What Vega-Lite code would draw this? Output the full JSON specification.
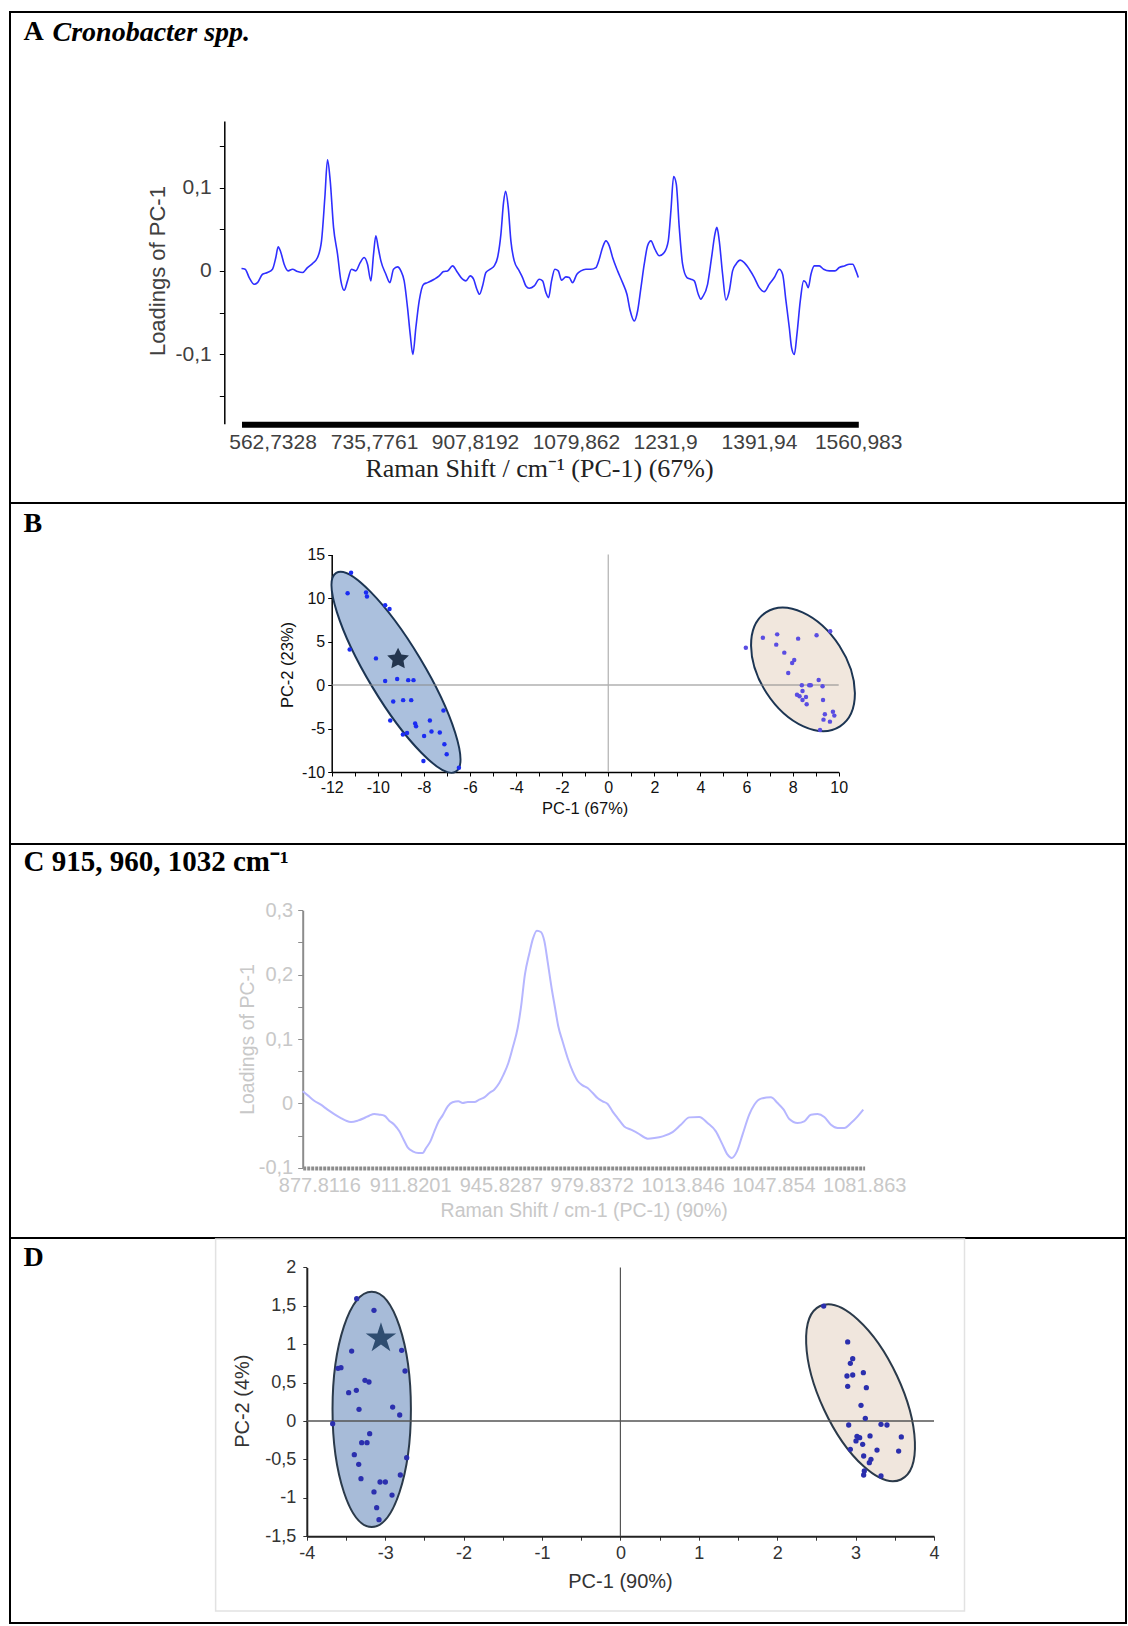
{
"padding": {"left": 9, "top": 11, "right": 1, "bottom": 1},
"spacing": 0,
"bounds": "flush",
"config": {
  "view": {"stroke": "#000000", "strokeWidth": 2},
  "font": "Liberation Sans",
  "axis": {"grid": false, "labelFlush": false, "labelOverlap": false, "titleFontWeight": "normal", "labelFont": "Liberation Sans", "titleFont": "Liberation Sans", "titleAlign": "center", "titleBaseline": "alphabetic"}
},
"datasets": {
  "specA": [
{"shift":509.8,"loading":0.0028},{"shift":516.0,"loading":0.0020},{"shift":522.9,"loading":-0.0080},{"shift":531.4,"loading":-0.0161},{"shift":537.1,"loading":-0.0141},{"shift":545.6,"loading":-0.0040},{"shift":554.1,"loading":-0.0020},{"shift":562.6,"loading":0.0020},{"shift":568.3,"loading":0.0161},{"shift":572.3,"loading":0.0289},{"shift":576.9,"loading":0.0221},{"shift":582.5,"loading":0.0080},{"shift":589.4,"loading":0.0},{"shift":596.7,"loading":0.0020},{"shift":605.3,"loading":-0.0008},{"shift":613.8,"loading":-0.0020},{"shift":622.3,"loading":0.0040},{"shift":630.8,"loading":0.0088},{"shift":639.4,"loading":0.0161},{"shift":646.2,"loading":0.0361},{"shift":651.9,"loading":0.0884},{"shift":656.4,"loading":0.1333},{"shift":661.0,"loading":0.1084},{"shift":666.7,"loading":0.0522},{"shift":673.5,"loading":0.0201},{"shift":679.2,"loading":-0.0120},{"shift":684.8,"loading":-0.0233},{"shift":690.5,"loading":-0.0120},{"shift":697.3,"loading":0.0020},{"shift":704.7,"loading":0.0},{"shift":712.1,"loading":0.0100},{"shift":718.9,"loading":0.0161},{"shift":724.6,"loading":0.0080},{"shift":730.3,"loading":-0.0120},{"shift":734.9,"loading":0.0201},{"shift":738.8,"loading":0.0422},{"shift":742.8,"loading":0.0281},{"shift":747.4,"loading":0.0120},{"shift":755.9,"loading":-0.0040},{"shift":762.7,"loading":-0.0141},{"shift":768.9,"loading":0.0020},{"shift":775.8,"loading":0.0048},{"shift":781.5,"loading":0.0},{"shift":787.1,"loading":-0.0120},{"shift":792.8,"loading":-0.0442},{"shift":797.4,"loading":-0.0763},{"shift":801.9,"loading":-0.1004},{"shift":807.0,"loading":-0.0683},{"shift":812.7,"loading":-0.0361},{"shift":820.1,"loading":-0.0161},{"shift":826.9,"loading":-0.0141},{"shift":838.3,"loading":-0.0100},{"shift":846.8,"loading":-0.0060},{"shift":854.2,"loading":-0.0008},{"shift":861.0,"loading":0.0},{"shift":869.6,"loading":0.0060},{"shift":878.1,"loading":-0.0020},{"shift":886.6,"loading":-0.0100},{"shift":892.3,"loading":-0.0120},{"shift":899.7,"loading":-0.0060},{"shift":905.4,"loading":-0.0100},{"shift":911.0,"loading":-0.0221},{"shift":915.6,"loading":-0.0281},{"shift":920.7,"loading":-0.0181},{"shift":926.4,"loading":-0.0020},{"shift":933.8,"loading":0.0020},{"shift":940.6,"loading":0.0060},{"shift":946.3,"loading":0.0161},{"shift":952.0,"loading":0.0442},{"shift":956.5,"loading":0.0823},{"shift":959.9,"loading":0.0956},{"shift":964.5,"loading":0.0763},{"shift":969.0,"loading":0.0361},{"shift":974.7,"loading":0.0120},{"shift":983.2,"loading":0.0},{"shift":988.9,"loading":-0.0080},{"shift":994.6,"loading":-0.0181},{"shift":1000.3,"loading":-0.0209},{"shift":1008.8,"loading":-0.0181},{"shift":1017.3,"loading":-0.0100},{"shift":1023.0,"loading":-0.0120},{"shift":1028.7,"loading":-0.0261},{"shift":1033.2,"loading":-0.0321},{"shift":1038.3,"loading":-0.0120},{"shift":1044.0,"loading":0.0020},{"shift":1049.7,"loading":0.0},{"shift":1055.4,"loading":-0.0112},{"shift":1062.8,"loading":-0.0072},{"shift":1068.5,"loading":-0.0080},{"shift":1074.1,"loading":-0.0141},{"shift":1081.5,"loading":-0.0040},{"shift":1088.4,"loading":0.0},{"shift":1096.9,"loading":0.0020},{"shift":1105.4,"loading":0.0020},{"shift":1113.9,"loading":0.0040},{"shift":1119.6,"loading":0.0141},{"shift":1125.3,"loading":0.0281},{"shift":1131.0,"loading":0.0361},{"shift":1136.7,"loading":0.0301},{"shift":1142.4,"loading":0.0161},{"shift":1150.9,"loading":0.0},{"shift":1159.4,"loading":-0.0141},{"shift":1166.8,"loading":-0.0281},{"shift":1172.5,"loading":-0.0482},{"shift":1179.3,"loading":-0.0602},{"shift":1185.0,"loading":-0.0482},{"shift":1190.7,"loading":-0.0201},{"shift":1196.3,"loading":0.0080},{"shift":1202.0,"loading":0.0301},{"shift":1207.7,"loading":0.0361},{"shift":1214.5,"loading":0.0261},{"shift":1221.9,"loading":0.0181},{"shift":1230.4,"loading":0.0221},{"shift":1237.3,"loading":0.0361},{"shift":1241.8,"loading":0.0723},{"shift":1246.4,"loading":0.1133},{"shift":1250.9,"loading":0.1044},{"shift":1256.0,"loading":0.0522},{"shift":1261.7,"loading":0.0080},{"shift":1269.1,"loading":-0.0080},{"shift":1275.9,"loading":-0.0100},{"shift":1281.6,"loading":-0.0120},{"shift":1288.4,"loading":-0.0281},{"shift":1292.9,"loading":-0.0341},{"shift":1295.8,"loading":-0.0313},{"shift":1304.3,"loading":-0.0161},{"shift":1311.1,"loading":0.0161},{"shift":1316.8,"loading":0.0442},{"shift":1320.2,"loading":0.0522},{"shift":1324.2,"loading":0.0361},{"shift":1329.9,"loading":-0.0040},{"shift":1335.6,"loading":-0.0349},{"shift":1341.3,"loading":-0.0241},{"shift":1346.9,"loading":0.0},{"shift":1352.6,"loading":0.0080},{"shift":1360.0,"loading":0.0129},{"shift":1366.8,"loading":0.0100},{"shift":1375.4,"loading":0.0020},{"shift":1383.9,"loading":-0.0080},{"shift":1392.4,"loading":-0.0201},{"shift":1400.9,"loading":-0.0249},{"shift":1409.5,"loading":-0.0161},{"shift":1418.0,"loading":-0.0080},{"shift":1426.5,"loading":0.0020},{"shift":1432.2,"loading":-0.0040},{"shift":1437.9,"loading":-0.0361},{"shift":1443.6,"loading":-0.0683},{"shift":1447.5,"loading":-0.0924},{"shift":1452.1,"loading":-0.1004},{"shift":1456.6,"loading":-0.0763},{"shift":1462.3,"loading":-0.0361},{"shift":1468.0,"loading":-0.0120},{"shift":1472.0,"loading":-0.0141},{"shift":1475.9,"loading":-0.0201},{"shift":1480.5,"loading":-0.0040},{"shift":1486.2,"loading":0.0060},{"shift":1494.7,"loading":0.0060},{"shift":1502.1,"loading":0.0020},{"shift":1511.8,"loading":0.0},{"shift":1521.4,"loading":0.0},{"shift":1528.8,"loading":0.0040},{"shift":1537.3,"loading":0.0060},{"shift":1545.9,"loading":0.0080},{"shift":1551.6,"loading":0.0080},{"shift":1557.2,"loading":0.0},{"shift":1561.2,"loading":-0.0080}
  ],
  "specC": [
{"shift":871.6,"loading":0.0187},{"shift":873.5,"loading":0.0124},{"shift":875.9,"loading":0.0041},{"shift":878.4,"loading":-0.0021},{"shift":880.9,"loading":-0.0098},{"shift":883.4,"loading":-0.0166},{"shift":885.9,"loading":-0.0228},{"shift":887.8,"loading":-0.0269},{"shift":889.7,"loading":-0.0290},{"shift":892.2,"loading":-0.0269},{"shift":894.7,"loading":-0.0228},{"shift":896.5,"loading":-0.0192},{"shift":898.4,"loading":-0.0166},{"shift":900.3,"loading":-0.0176},{"shift":902.2,"loading":-0.0192},{"shift":904.0,"loading":-0.0269},{"shift":905.9,"loading":-0.0332},{"shift":907.8,"loading":-0.0435},{"shift":909.4,"loading":-0.0565},{"shift":910.9,"loading":-0.0684},{"shift":912.8,"loading":-0.0746},{"shift":914.9,"loading":-0.0772},{"shift":916.5,"loading":-0.0772},{"shift":917.8,"loading":-0.0694},{"shift":919.4,"loading":-0.0591},{"shift":920.9,"loading":-0.0435},{"shift":922.4,"loading":-0.0290},{"shift":924.0,"loading":-0.0187},{"shift":925.9,"loading":-0.0047},{"shift":927.7,"loading":0.0016},{"shift":929.9,"loading":0.0031},{"shift":931.5,"loading":0.0005},{"shift":933.4,"loading":0.0021},{"shift":935.9,"loading":0.0021},{"shift":937.7,"loading":0.0057},{"shift":939.6,"loading":0.0093},{"shift":941.5,"loading":0.0161},{"shift":943.3,"loading":0.0212},{"shift":945.2,"loading":0.0316},{"shift":946.8,"loading":0.0446},{"shift":948.6,"loading":0.0627},{"shift":950.2,"loading":0.0860},{"shift":952.1,"loading":0.1171},{"shift":953.3,"loading":0.1482},{"shift":954.8,"loading":0.2000},{"shift":956.5,"loading":0.2337},{"shift":957.7,"loading":0.2544},{"shift":959.3,"loading":0.2684},{"shift":960.8,"loading":0.2663},{"shift":962.1,"loading":0.2518},{"shift":963.3,"loading":0.2207},{"shift":964.8,"loading":0.1793},{"shift":966.1,"loading":0.1482},{"shift":967.3,"loading":0.1197},{"shift":968.9,"loading":0.0964},{"shift":970.8,"loading":0.0705},{"shift":972.7,"loading":0.0497},{"shift":974.5,"loading":0.0352},{"shift":976.4,"loading":0.0280},{"shift":978.3,"loading":0.0238},{"shift":980.2,"loading":0.0161},{"shift":982.0,"loading":0.0083},{"shift":983.9,"loading":0.0031},{"shift":985.8,"loading":-0.0010},{"shift":987.6,"loading":-0.0124},{"shift":989.5,"loading":-0.0228},{"shift":992.0,"loading":-0.0358},{"shift":994.5,"loading":-0.0409},{"shift":997.0,"loading":-0.0461},{"shift":1000.8,"loading":-0.0549},{"shift":1003.3,"loading":-0.0539},{"shift":1006.4,"loading":-0.0513},{"shift":1010.1,"loading":-0.0446},{"shift":1013.2,"loading":-0.0332},{"shift":1016.4,"loading":-0.0218},{"shift":1020.1,"loading":-0.0212},{"shift":1023.2,"loading":-0.0306},{"shift":1026.3,"loading":-0.0435},{"shift":1028.8,"loading":-0.0642},{"shift":1030.7,"loading":-0.0798},{"shift":1032.2,"loading":-0.0850},{"shift":1034.2,"loading":-0.0746},{"shift":1036.3,"loading":-0.0487},{"shift":1038.8,"loading":-0.0176},{"shift":1040.7,"loading":-0.0021},{"shift":1043.2,"loading":0.0073},{"shift":1046.9,"loading":0.0093},{"shift":1049.4,"loading":0.0005},{"shift":1051.7,"loading":-0.0098},{"shift":1053.8,"loading":-0.0244},{"shift":1056.9,"loading":-0.0306},{"shift":1059.4,"loading":-0.0280},{"shift":1061.9,"loading":-0.0176},{"shift":1064.4,"loading":-0.0166},{"shift":1066.9,"loading":-0.0212},{"shift":1069.4,"loading":-0.0332},{"shift":1071.9,"loading":-0.0383},{"shift":1074.4,"loading":-0.0383},{"shift":1076.9,"loading":-0.0306},{"shift":1079.4,"loading":-0.0202},{"shift":1081.5,"loading":-0.0098}
  ],
  "pcaB": [
{"pc1":-11.16,"pc2":12.89,"cluster":"left"},{"pc1":-11.31,"pc2":10.55,"cluster":"left"},{"pc1":-10.51,"pc2":10.62,"cluster":"left"},{"pc1":-10.47,"pc2":10.16,"cluster":"left"},{"pc1":-9.68,"pc2":9.16,"cluster":"left"},{"pc1":-9.49,"pc2":8.74,"cluster":"left"},{"pc1":-11.22,"pc2":4.09,"cluster":"left"},{"pc1":-10.08,"pc2":3.06,"cluster":"left"},{"pc1":-9.68,"pc2":0.45,"cluster":"left"},{"pc1":-9.16,"pc2":0.68,"cluster":"left"},{"pc1":-8.68,"pc2":0.56,"cluster":"left"},{"pc1":-8.45,"pc2":0.56,"cluster":"left"},{"pc1":-9.33,"pc2":-1.90,"cluster":"left"},{"pc1":-8.90,"pc2":-1.74,"cluster":"left"},{"pc1":-8.55,"pc2":-1.74,"cluster":"left"},{"pc1":-9.46,"pc2":-4.09,"cluster":"left"},{"pc1":-8.38,"pc2":-4.43,"cluster":"left"},{"pc1":-8.34,"pc2":-4.74,"cluster":"left"},{"pc1":-7.74,"pc2":-4.09,"cluster":"left"},{"pc1":-7.15,"pc2":-2.93,"cluster":"left"},{"pc1":-8.91,"pc2":-5.70,"cluster":"left"},{"pc1":-8.73,"pc2":-5.51,"cluster":"left"},{"pc1":-7.99,"pc2":-5.85,"cluster":"left"},{"pc1":-7.67,"pc2":-5.35,"cluster":"left"},{"pc1":-7.31,"pc2":-5.47,"cluster":"left"},{"pc1":-7.11,"pc2":-6.81,"cluster":"left"},{"pc1":-7.01,"pc2":-7.96,"cluster":"left"},{"pc1":-8.02,"pc2":-8.73,"cluster":"left"},{"pc1":-6.48,"pc2":-9.50,"cluster":"left"},
{"pc1":5.97,"pc2":4.29,"cluster":"right"},{"pc1":6.71,"pc2":5.44,"cluster":"right"},{"pc1":7.33,"pc2":5.82,"cluster":"right"},{"pc1":7.29,"pc2":4.64,"cluster":"right"},{"pc1":8.24,"pc2":5.33,"cluster":"right"},{"pc1":9.04,"pc2":5.71,"cluster":"right"},{"pc1":9.63,"pc2":6.17,"cluster":"right"},{"pc1":7.64,"pc2":3.72,"cluster":"right"},{"pc1":8.07,"pc2":2.87,"cluster":"right"},{"pc1":7.98,"pc2":2.53,"cluster":"right"},{"pc1":7.81,"pc2":1.38,"cluster":"right"},{"pc1":9.13,"pc2":0.58,"cluster":"right"},{"pc1":8.40,"pc2":-0.04,"cluster":"right"},{"pc1":8.72,"pc2":-0.04,"cluster":"right"},{"pc1":8.79,"pc2":-0.04,"cluster":"right"},{"pc1":9.30,"pc2":-0.15,"cluster":"right"},{"pc1":8.43,"pc2":-0.69,"cluster":"right"},{"pc1":8.19,"pc2":-1.11,"cluster":"right"},{"pc1":8.30,"pc2":-1.30,"cluster":"right"},{"pc1":8.58,"pc2":-1.38,"cluster":"right"},{"pc1":8.43,"pc2":-1.72,"cluster":"right"},{"pc1":8.61,"pc2":-2.22,"cluster":"right"},{"pc1":9.32,"pc2":-1.72,"cluster":"right"},{"pc1":9.40,"pc2":-3.37,"cluster":"right"},{"pc1":9.75,"pc2":-3.07,"cluster":"right"},{"pc1":9.81,"pc2":-3.52,"cluster":"right"},{"pc1":9.34,"pc2":-3.98,"cluster":"right"},{"pc1":9.62,"pc2":-4.21,"cluster":"right"},{"pc1":9.19,"pc2":-5.17,"cluster":"right"}
  ],
  "ellB": [{"cluster":"left","pc1":-9.21,"pc2":1.46},{"cluster":"right","pc1":8.45,"pc2":1.8}],
  "starB": [{"pc1":-9.12,"pc2":2.98}],
  "pcaD": [
{"pc1":-3.364,"pc2":1.593,"cluster":"left"},{"pc1":-3.143,"pc2":1.441,"cluster":"left"},{"pc1":-3.428,"pc2":0.911,"cluster":"left"},{"pc1":-2.790,"pc2":0.920,"cluster":"left"},{"pc1":-3.602,"pc2":0.686,"cluster":"left"},{"pc1":-3.564,"pc2":0.694,"cluster":"left"},{"pc1":-2.747,"pc2":0.651,"cluster":"left"},{"pc1":-3.258,"pc2":0.530,"cluster":"left"},{"pc1":-3.207,"pc2":0.508,"cluster":"left"},{"pc1":-3.466,"pc2":0.369,"cluster":"left"},{"pc1":-3.368,"pc2":0.399,"cluster":"left"},{"pc1":-3.334,"pc2":0.152,"cluster":"left"},{"pc1":-2.905,"pc2":0.182,"cluster":"left"},{"pc1":-2.815,"pc2":0.078,"cluster":"left"},{"pc1":-3.670,"pc2":-0.035,"cluster":"left"},{"pc1":-3.198,"pc2":-0.165,"cluster":"left"},{"pc1":-3.300,"pc2":-0.282,"cluster":"left"},{"pc1":-3.232,"pc2":-0.282,"cluster":"left"},{"pc1":-3.394,"pc2":-0.438,"cluster":"left"},{"pc1":-3.338,"pc2":-0.564,"cluster":"left"},{"pc1":-2.726,"pc2":-0.477,"cluster":"left"},{"pc1":-3.309,"pc2":-0.751,"cluster":"left"},{"pc1":-2.807,"pc2":-0.703,"cluster":"left"},{"pc1":-3.066,"pc2":-0.794,"cluster":"left"},{"pc1":-2.998,"pc2":-0.794,"cluster":"left"},{"pc1":-3.143,"pc2":-0.924,"cluster":"left"},{"pc1":-2.913,"pc2":-0.964,"cluster":"left"},{"pc1":-3.109,"pc2":-1.128,"cluster":"left"},{"pc1":-3.079,"pc2":-1.285,"cluster":"left"},
{"pc1":2.593,"pc2":1.497,"cluster":"right"},{"pc1":2.899,"pc2":1.029,"cluster":"right"},{"pc1":2.963,"pc2":0.812,"cluster":"right"},{"pc1":2.933,"pc2":0.751,"cluster":"right"},{"pc1":2.890,"pc2":0.586,"cluster":"right"},{"pc1":2.963,"pc2":0.599,"cluster":"right"},{"pc1":3.099,"pc2":0.629,"cluster":"right"},{"pc1":2.899,"pc2":0.451,"cluster":"right"},{"pc1":3.137,"pc2":0.434,"cluster":"right"},{"pc1":3.069,"pc2":0.204,"cluster":"right"},{"pc1":3.124,"pc2":0.035,"cluster":"right"},{"pc1":2.912,"pc2":-0.052,"cluster":"right"},{"pc1":3.324,"pc2":-0.043,"cluster":"right"},{"pc1":3.400,"pc2":-0.052,"cluster":"right"},{"pc1":3.018,"pc2":-0.199,"cluster":"right"},{"pc1":3.052,"pc2":-0.217,"cluster":"right"},{"pc1":3.184,"pc2":-0.195,"cluster":"right"},{"pc1":3.583,"pc2":-0.208,"cluster":"right"},{"pc1":3.005,"pc2":-0.260,"cluster":"right"},{"pc1":3.090,"pc2":-0.304,"cluster":"right"},{"pc1":2.933,"pc2":-0.369,"cluster":"right"},{"pc1":3.273,"pc2":-0.378,"cluster":"right"},{"pc1":3.549,"pc2":-0.391,"cluster":"right"},{"pc1":3.103,"pc2":-0.456,"cluster":"right"},{"pc1":3.196,"pc2":-0.499,"cluster":"right"},{"pc1":3.175,"pc2":-0.543,"cluster":"right"},{"pc1":3.111,"pc2":-0.651,"cluster":"right"},{"pc1":3.103,"pc2":-0.703,"cluster":"right"},{"pc1":3.324,"pc2":-0.716,"cluster":"right"}
  ],
  "ellD": [{"cluster":"left","pc1":-3.172,"pc2":0.152},{"cluster":"right","pc1":3.063,"pc2":0.368}],
  "starD": [{"pc1":-3.054,"pc2":1.076}]
},
"vconcat": [
  {
    "width": 1116, "height": 491,
    "title": {"text": "A", "anchor": "start", "frame": "group", "orient": "top", "offset": -56, "dx": 13.5, "baseline": "alphabetic", "font": "Liberation Serif", "fontSize": 28, "fontWeight": "bold", "color": "#000000"},
    "data": {"name": "specA"},
    "resolve": {"axis": {"x": "independent"}},
    "layer": [
      {"mark": {"type": "line", "color": "#2f2fff", "strokeWidth": 1.6, "interpolate": "monotone"},
       "encoding": {
        "x": {"field": "shift", "type": "quantitative",
          "scale": {"domain": [509.8, 1561.2], "range": [231.5, 848.3], "nice": false, "zero": false},
          "axis": {"orient": "bottom", "offset": -78.7, "values": [562.7328, 735.7761, 907.8192, 1079.862, 1231.9, 1391.94, 1560.983],
            "labelExpr": "replace(toString(datum.value), '.', ',')", "ticks": false, "tickSize": 0, "domainColor": "#000000", "domainWidth": 6,
            "labelFontSize": 21, "labelColor": "#404040", "labelPadding": 7,
            "title": "Raman Shift / cm⁻¹ (PC-1) (67%)", "titleFont": "Liberation Serif", "titleFontSize": 26, "titleColor": "#222222", "titleX": 529, "titleY": 51.7}},
        "y": {"field": "loading", "type": "quantitative",
          "scale": {"domain": [-0.1835, 0.18], "range": [411.7, 109], "nice": false, "zero": false},
          "axis": {"orient": "left", "offset": -214.3, "values": [-0.15, -0.1, -0.05, 0, 0.05, 0.1, 0.15],
            "labelExpr": "datum.value == 0.1 ? '0,1' : datum.value == -0.1 ? '-0,1' : datum.value == 0 ? '0' : ''",
            "tickSize": 5, "tickColor": "#000000", "domainColor": "#000000", "domainWidth": 1.5,
            "labelFontSize": 21, "labelColor": "#404040", "labelPadding": 8,
            "title": "Loadings of PC-1", "titleFontSize": 22, "titleColor": "#404040", "titleAngle": -90, "titleX": -59.8, "titleY": 258.6}}
       }},
      {"mark": {"type": "line", "opacity": 0},
       "encoding": {
        "x": {"field": "shift", "type": "quantitative",
          "axis": {"orient": "top", "offset": 0, "domain": false, "ticks": false, "labels": false, "grid": false,
            "title": "Cronobacter spp.", "titleFont": "Liberation Serif", "titleFontSize": 28, "titleFontWeight": "bold", "titleFontStyle": "italic", "titleColor": "#000000",
            "titleAlign": "left", "titleBaseline": "alphabetic", "titleAngle": 0, "titleX": 42, "titleY": 28}},
        "y": {"field": "loading", "type": "quantitative"}
       }}
    ]
  },
  {
    "width": 1116, "height": 341,
    "title": {"text": "B", "anchor": "start", "frame": "group", "orient": "top", "offset": -57, "dx": 13.5, "baseline": "alphabetic", "font": "Liberation Serif", "fontSize": 28, "fontWeight": "bold", "color": "#000000"},
    "layer": [
      {"data": {"name": "ellB"}, "transform": [{"filter": "datum.cluster == 'left'"}],
       "mark": {"type": "point", "shape": "M-1,0 C-1,-0.1325 -0.5523,-0.24 0,-0.24 C0.5523,-0.24 1,-0.1325 1,0 C1,0.1325 0.5523,0.24 0,0.24 C-0.5523,0.24 -1,0.1325 -1,0 Z", "size": 53824, "angle": 59, "filled": true, "fill": "#abc0dd", "stroke": "#1c3553", "strokeWidth": 2, "opacity": 1},
       "encoding": {
         "x": {"field": "pc1", "type": "quantitative",
           "scale": {"domain": [-12, 10], "range": [321.7, 828.7], "nice": false, "zero": false},
           "axis": {"orient": "bottom", "offset": -72, "values": [-12,-11,-10,-9,-8,-7,-6,-5,-4,-3,-2,-1,0,1,2,3,4,5,6,7,8,9,10],
             "labelExpr": "abs(datum.value/2 - round(datum.value/2)) < 0.001 ? toString(datum.value) : ''",
             "tickSize": 4, "tickColor": "#000000", "domainColor": "#000000", "domainWidth": 1.5,
             "labelFontSize": 16, "labelColor": "#111111", "labelPadding": 3,
             "title": "PC-1 (67%)", "titleFontSize": 16.5, "titleColor": "#111111", "titleX": 574.7, "titleY": 41.6}},
         "y": {"field": "pc2", "type": "quantitative",
           "scale": {"domain": [-10, 15], "range": [269, 51.5], "nice": false, "zero": false},
           "axis": {"orient": "left", "offset": -321.7, "values": [-10,-7.5,-5,-2.5,0,2.5,5,7.5,10,12.5,15],
             "labelExpr": "abs(datum.value/5 - round(datum.value/5)) < 0.001 ? toString(datum.value) : ''",
             "tickSize": 4, "tickColor": "#000000", "domainColor": "#000000", "domainWidth": 1.5,
             "labelFontSize": 16, "labelColor": "#111111", "labelPadding": 3,
             "title": "PC-2 (23%)", "titleFontSize": 16.5, "titleColor": "#111111", "titleAngle": -90, "titleX": -39.5, "titleY": 161.5}}
       }},
      {"data": {"name": "ellB"}, "transform": [{"filter": "datum.cluster == 'right'"}],
       "mark": {"type": "point", "shape": "M-1,0 C-1,-0.3524 -0.5523,-0.638 0,-0.638 C0.5523,-0.638 1,-0.3524 1,0 C1,0.3524 0.5523,0.638 0,0.638 C-0.5523,0.638 -1,0.3524 -1,0 Z", "size": 18496, "angle": 57, "filled": true, "fill": "#f1e7dd", "stroke": "#1c3553", "strokeWidth": 2, "opacity": 1},
       "encoding": {"x": {"field": "pc1", "type": "quantitative"}, "y": {"field": "pc2", "type": "quantitative"}}},
      {"data": {"values": [{}]}, "mark": {"type": "rule", "color": "#8a8a8a", "strokeWidth": 1.2},
       "encoding": {"x": {"datum": -12}, "x2": {"datum": 10}, "y": {"datum": 0}}},
      {"data": {"values": [{}]}, "mark": {"type": "rule", "color": "#b0b0b0", "strokeWidth": 1.2},
       "encoding": {"x": {"datum": 0}, "y": {"datum": -10}, "y2": {"datum": 15}}},
      {"data": {"name": "pcaB"}, "mark": {"type": "circle", "size": 20, "opacity": 1},
       "encoding": {"x": {"field": "pc1", "type": "quantitative"}, "y": {"field": "pc2", "type": "quantitative"},
         "color": {"field": "cluster", "type": "nominal", "scale": {"domain": ["left", "right"], "range": ["#1b2cf2", "#5a4de2"]}, "legend": null}}},
      {"data": {"name": "starB"}, "mark": {"type": "point", "shape": "M0,-1 L0.294,-0.405 L0.951,-0.309 L0.476,0.155 L0.588,0.809 L0,0.5 L-0.588,0.809 L-0.476,0.155 L-0.951,-0.309 L-0.294,-0.405 Z", "size": 520, "filled": true, "color": "#23354e", "opacity": 1},
       "encoding": {"x": {"field": "pc1", "type": "quantitative"}, "y": {"field": "pc2", "type": "quantitative"}}}
    ]
  },
  {
    "width": 1116, "height": 394,
    "title": {"text": "C 915, 960, 1032 cm⁻¹", "anchor": "start", "frame": "group", "orient": "top", "offset": -56, "dx": 13.5, "baseline": "alphabetic", "font": "Liberation Serif", "fontSize": 29, "fontWeight": "bold", "color": "#000000"},
    "data": {"name": "specC"},
    "mark": {"type": "line", "color": "#b6b6ff", "strokeWidth": 2, "interpolate": "monotone"},
    "encoding": {
      "x": {"field": "shift", "type": "quantitative",
        "scale": {"domain": [871.6, 1082], "range": [292.7, 854.6], "nice": false, "zero": false},
        "axis": {"orient": "bottom", "offset": -70, "values": [877.8116, 911.8201, 945.8287, 979.8372, 1013.846, 1047.854, 1081.863],
          "labelExpr": "toString(datum.value)", "ticks": false, "tickSize": 0, "domainColor": "#8c8c8c", "domainWidth": 4, "domainDash": [3, 1],
          "labelFontSize": 20, "labelColor": "#c8c8c8", "labelPadding": 7,
          "title": "Raman Shift / cm-1 (PC-1) (90%)", "titleFontSize": 19.5, "titleColor": "#c8c8c8", "titleX": 573.7, "titleY": 48}},
      "y": {"field": "loading", "type": "quantitative",
        "scale": {"domain": [-0.1, 0.3], "range": [323.7, 66.3], "nice": false, "zero": false},
        "axis": {"orient": "left", "offset": -292.7, "values": [-0.1, -0.05, 0, 0.05, 0.1, 0.15, 0.2, 0.25, 0.3],
          "labelExpr": "abs(datum.value*10 - round(datum.value*10)) < 0.001 ? replace(toString(datum.value), '.', ',') : ''",
          "tickSize": 5, "tickColor": "#8c8c8c", "domainColor": "#8c8c8c", "domainWidth": 2,
          "labelFontSize": 20, "labelColor": "#c8c8c8", "labelPadding": 5,
          "title": "Loadings of PC-1", "titleFontSize": 19.5, "titleColor": "#c8c8c8", "titleAngle": -90, "titleX": -49.7, "titleY": 195}}
    }
  },
  {
    "width": 1116, "height": 385,
    "title": {"text": "D", "anchor": "start", "frame": "group", "orient": "top", "offset": -56, "dx": 13.5, "baseline": "alphabetic", "font": "Liberation Serif", "fontSize": 28, "fontWeight": "bold", "color": "#000000"},
    "layer": [
      {"data": {"values": [{}]}, "mark": {"type": "rect", "fillOpacity": 0, "stroke": "#e2e2e2", "strokeWidth": 1.5},
       "encoding": {
         "x": {"datum": -5.163, "type": "quantitative",
           "scale": {"domain": [-4, 4], "range": [296.8, 924], "nice": false, "zero": false},
           "axis": {"orient": "bottom", "offset": -86.8, "values": [-4,-3.75,-3.5,-3.25,-3,-2.75,-2.5,-2.25,-2,-1.75,-1.5,-1.25,-1,-0.75,-0.5,-0.25,0,0.25,0.5,0.75,1,1.25,1.5,1.75,2,2.25,2.5,2.75,3,3.25,3.5,3.75,4],
             "labelExpr": "abs(datum.value - round(datum.value)) < 0.001 ? toString(datum.value) : ''",
             "tickSize": 4, "tickColor": "#333333", "domainColor": "#222222", "domainWidth": 2,
             "labelFontSize": 18, "labelColor": "#333333", "labelPadding": 4,
             "title": "PC-1 (90%)", "titleFontSize": 20, "titleColor": "#333333", "titleX": 610, "titleY": 51}},
         "x2": {"datum": 4.389},
         "y": {"datum": 2.37, "type": "quantitative",
           "scale": {"domain": [-1.5, 2], "range": [298.2, 29.4], "nice": false, "zero": false},
           "axis": {"orient": "left", "offset": -296.8, "values": [-1.5,-1.25,-1,-0.75,-0.5,-0.25,0,0.25,0.5,0.75,1,1.25,1.5,1.75,2],
             "labelExpr": "abs(datum.value*2 - round(datum.value*2)) < 0.001 ? replace(toString(datum.value), '.', ',') : ''",
             "tickSize": 4, "tickColor": "#333333", "domainColor": "#222222", "domainWidth": 2,
             "labelFontSize": 18, "labelColor": "#333333", "labelPadding": 7,
             "title": "PC-2 (4%)", "titleFontSize": 20, "titleColor": "#333333", "titleAngle": -90, "titleX": -58, "titleY": 162.7}},
         "y2": {"datum": -2.474}
       }},
      {"data": {"name": "ellD"}, "transform": [{"filter": "datum.cluster == 'left'"}],
       "mark": {"type": "point", "shape": "M-1,0 C-1,-0.1839 -0.5523,-0.333 0,-0.333 C0.5523,-0.333 1,-0.1839 1,0 C1,0.1839 0.5523,0.333 0,0.333 C-0.5523,0.333 -1,0.1839 -1,0 Z", "size": 55413, "angle": 90, "filled": true, "fill": "#a7bbd8", "stroke": "#2b3a4a", "strokeWidth": 2, "opacity": 1},
       "encoding": {"x": {"field": "pc1", "type": "quantitative"}, "y": {"field": "pc2", "type": "quantitative"}}},
      {"data": {"name": "ellD"}, "transform": [{"filter": "datum.cluster == 'right'"}],
       "mark": {"type": "point", "shape": "M-1,0 C-1,-0.232 -0.5523,-0.42 0,-0.42 C0.5523,-0.42 1,-0.232 1,0 C1,0.232 0.5523,0.42 0,0.42 C-0.5523,0.42 -1,0.232 -1,0 Z", "size": 36634, "angle": 65, "filled": true, "fill": "#f0e6dd", "stroke": "#2b3a4a", "strokeWidth": 2, "opacity": 1},
       "encoding": {"x": {"field": "pc1", "type": "quantitative"}, "y": {"field": "pc2", "type": "quantitative"}}},
      {"data": {"values": [{}]}, "mark": {"type": "rule", "color": "#555555", "strokeWidth": 1.3},
       "encoding": {"x": {"datum": -4}, "x2": {"datum": 4}, "y": {"datum": 0}}},
      {"data": {"values": [{}]}, "mark": {"type": "rule", "color": "#555555", "strokeWidth": 1.2},
       "encoding": {"x": {"datum": 0}, "y": {"datum": -1.5}, "y2": {"datum": 2}}},
      {"data": {"name": "pcaD"}, "mark": {"type": "circle", "size": 28, "opacity": 1, "color": "#2b2fae"},
       "encoding": {"x": {"field": "pc1", "type": "quantitative"}, "y": {"field": "pc2", "type": "quantitative"}}},
      {"data": {"name": "starD"}, "mark": {"type": "point", "shape": "M0,-1 L0.225,-0.309 L0.951,-0.309 L0.363,0.118 L0.588,0.809 L0,0.382 L-0.588,0.809 L-0.363,0.118 L-0.951,-0.309 L-0.225,-0.309 Z", "size": 1024, "filled": true, "color": "#2f4d70", "opacity": 1},
       "encoding": {"x": {"field": "pc1", "type": "quantitative"}, "y": {"field": "pc2", "type": "quantitative"}}}
    ]
  }
]
}
